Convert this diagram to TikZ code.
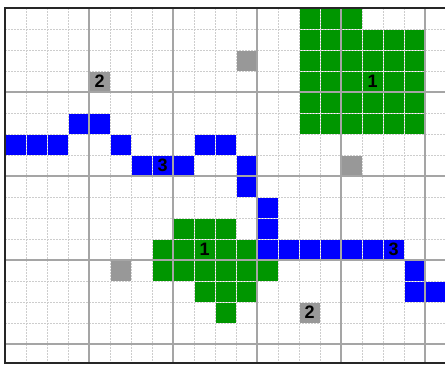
\documentclass[tikz,border=0pt]{standalone}
\usepackage{fontspec}
\setmainfont{Liberation Sans}
\definecolor{cgreen}{RGB}{0,150,0}
\definecolor{cblue}{RGB}{0,0,255}
\definecolor{cgray}{RGB}{152,152,152}
\definecolor{minorc}{RGB}{205,205,205}
\definecolor{majorc}{RGB}{165,165,165}
\tikzset{
  cellbox/.style={inner sep=0pt, minimum size=19.6pt, draw=none, anchor=north west},
  minorline/.style={minorc, line width=0.9pt, dash pattern=on 1.5pt off 1.5pt},
  majorline/.style={majorc, line width=1.6pt},
  borderline/.style={black!85, line width=2pt},
  lbl/.style={inner sep=0pt, font=\fontsize{18}{18}\selectfont\bfseries, text=black}
}
\begin{document}
\begin{tikzpicture}[x=1pt,y=-1pt]
\useasboundingbox (0,0) rectangle (445,365);
\fill[white] (0,0) rectangle (445,365);
% green cells
\foreach \c/\r in {14/0,15/0,16/0,
  14/1,15/1,16/1,17/1,18/1,19/1,
  14/2,15/2,16/2,17/2,18/2,19/2,
  14/3,15/3,16/3,17/3,18/3,19/3,
  14/4,15/4,16/4,17/4,18/4,19/4,
  14/5,15/5,16/5,17/5,18/5,19/5,
  8/10,9/10,10/10,
  7/11,8/11,9/11,10/11,11/11,
  7/12,8/12,9/12,10/12,11/12,12/12,
  9/13,10/13,11/13,
  10/14}
  \node[cellbox, fill=cgreen] (g-\c-\r) at ({5.7+21*\c},{8.7+21*\r}) {};
% blue cells
\foreach \c/\r in {3/5,4/5,
  0/6,1/6,2/6,5/6,9/6,10/6,
  6/7,7/7,8/7,11/7,
  11/8,12/9,12/10,
  12/11,13/11,14/11,15/11,16/11,17/11,18/11,
  19/12,19/13,20/13}
  \node[cellbox, fill=cblue] (b-\c-\r) at ({5.7+21*\c},{8.7+21*\r}) {};
% gray cells
\foreach \c/\r in {4/3,11/2,16/7,5/12,14/14}
  \node[cellbox, fill=cgray] (k-\c-\r) at ({5.7+21*\c},{8.7+21*\r}) {};
% minor grid
\foreach \i in {1,...,20}
  \draw[minorline] ({5+21*\i},8) -- ({5+21*\i},363);
\foreach \j in {1,...,16}
  \draw[minorline] (5,{8+21*\j}) -- (446,{8+21*\j});
% major grid
\foreach \i in {1,...,5}
  \draw[majorline] ({5+84*\i},8) -- ({5+84*\i},363);
\foreach \j in {1,...,4}
  \draw[majorline] (5,{8+84*\j}) -- (446,{8+84*\j});
% borders
\draw[borderline] (446,8) -- (5,8) -- (5,363) -- (446,363);
% labels
\node[lbl] (l1a) at (g-17-3) {1};
\node[lbl] (l1b) at (g-9-11) {1};
\node[lbl] (l2a) at (k-4-3) {2};
\node[lbl] (l2b) at (k-14-14) {2};
\node[lbl] (l3a) at (b-7-7) {3};
\node[lbl] (l3b) at (b-18-11) {3};
\end{tikzpicture}
\end{document}
